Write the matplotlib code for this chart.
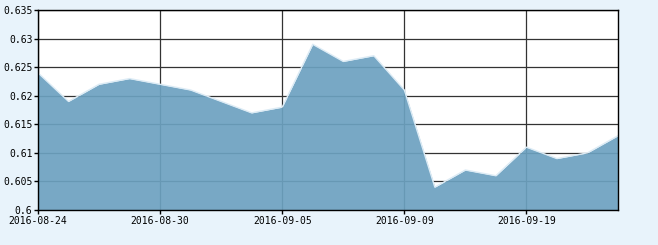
import numpy as np
import matplotlib.pyplot as plt

dates = ["2016-08-24", "2016-08-25", "2016-08-26", "2016-08-29", "2016-08-30",
         "2016-08-31", "2016-09-01", "2016-09-02", "2016-09-05", "2016-09-06",
         "2016-09-07", "2016-09-08", "2016-09-09", "2016-09-12", "2016-09-13",
         "2016-09-14", "2016-09-19", "2016-09-20", "2016-09-21", "2016-09-22"]
values = [0.624, 0.619, 0.622, 0.623, 0.622, 0.621, 0.619, 0.617, 0.618, 0.629,
          0.626, 0.627, 0.621, 0.604, 0.607, 0.606, 0.611, 0.609, 0.610, 0.613]
yticks = [0.6, 0.605, 0.61, 0.615, 0.62, 0.625, 0.63, 0.635]
ytick_labels = ["0.6", "0.605", "0.61", "0.615", "0.62", "0.625", "0.63", "0.635"]

plt.rcParams["font.family"] = ["DejaVu Sans Mono"]

fig = plt.figure(figsize=(6.58, 2.45), dpi=100, facecolor="#e8f3fb")
ax = fig.add_axes([38 / 658, 35 / 245, 580 / 658, 200 / 245])
ax.set_facecolor("white")

x = np.arange(len(values))
ax.grid(True, color="#333333", linewidth=0.9, zorder=1)
ax.fill_between(x, 0.6, values, color="#6ca1c0", alpha=0.92, linewidth=0, zorder=2)
ax.plot(x, values, color="#dcebf5", linewidth=1.0, zorder=3)

ax.set_xlim(0, len(values) - 1)
ax.set_ylim(0.6, 0.635)
ax.set_xticks(x[::4])
ax.set_xticklabels([dates[i] for i in x[::4]])
ax.set_yticks(yticks)
ax.set_yticklabels(ytick_labels)
ax.tick_params(axis="both", length=3, width=1, color="black", labelsize=7, pad=1)

for s in ax.spines.values():
    s.set_color("black")
    s.set_linewidth(1.0)
    s.set_zorder(4)

fig.savefig("out.png", dpi=100, facecolor=fig.get_facecolor())
